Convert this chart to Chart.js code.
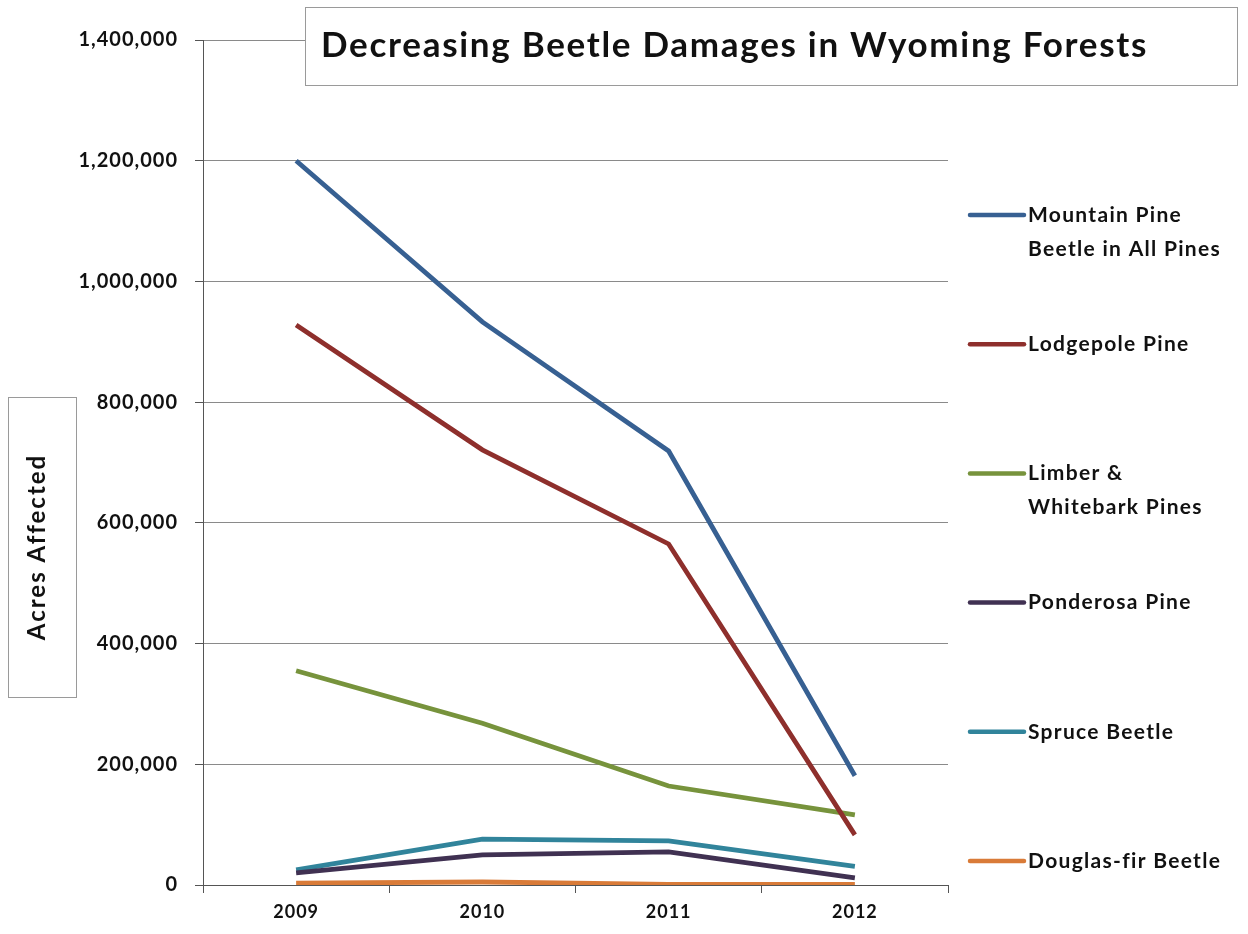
<!DOCTYPE html>
<html>
<head>
<meta charset="utf-8">
<script src="https://cdn.jsdelivr.net/npm/chart.js@4.4.0/dist/chart.umd.min.js"></script>
<style>
  html, body { margin: 0; padding: 0; background: #fff; }
  #wrap { width: 1248px; height: 934px; position: relative; }
</style>
</head>
<body>
<div id="wrap"><canvas id="beetleChart" width="1248" height="934"></canvas></div>
<script>
    const years = ['2009', '2010', '2011', '2012'];
    const mountainPine = [1200000, 933000, 719000, 181000];
    const lodgepole = [928000, 721000, 565000, 83000];
    const limberWhitebark = [355000, 268000, 164000, 116000];
    const ponderosa = [20000, 50000, 55000, 12000];
    const spruce = [25000, 76000, 73000, 31000];
    const douglasFir = [3000, 5000, 1000, 1000];

    const seriesLabels = [
        ['Mountain Pine', 'Beetle in All Pines'],
        ['Lodgepole Pine'],
        ['Limber &', 'Whitebark Pines'],
        ['Ponderosa Pine'],
        ['Spruce Beetle'],
        ['Douglas-fir Beetle']
    ];
    const seriesValues = [mountainPine, lodgepole, limberWhitebark, ponderosa, spruce, douglasFir];
    const seriesColors = ['#376092', '#8E2F2C', '#77933C', '#403152', '#31849B', '#D97B38'];

    const chartTitle = 'Decreasing Beetle Damages in Wyoming Forests';
    const yTitle = 'Acres Affected';
    const FONT = 'Lato, "Open Sans", sans-serif';

    // wider letter spacing for the axis labels (the original font runs wide)
    const spacing = {
        id: 'spacing',
        beforeDraw(chart) {
            chart.ctx.letterSpacing = '1px';
        }
    };

    // title box, y-axis title box and the right-hand legend
    const decorations = {
        id: 'decorations',
        afterDraw(chart) {
            const ctx = chart.ctx;
            ctx.save();

            // title box
            ctx.fillStyle = '#fff';
            ctx.strokeStyle = '#9a9a9a';
            ctx.lineWidth = 1;
            ctx.fillRect(305.5, 7.5, 932, 78);
            ctx.strokeRect(305.5, 7.5, 932, 78);
            ctx.fillStyle = '#111';
            ctx.letterSpacing = '1.7px';
            ctx.font = 'bold 35px ' + FONT;
            ctx.textBaseline = 'middle';
            ctx.textAlign = 'left';
            ctx.fillText(chartTitle, 321, 46);

            // y axis title box
            ctx.strokeRect(8.5, 397.5, 68, 300);
            ctx.translate(37, 547);
            ctx.rotate(-Math.PI / 2);
            ctx.textAlign = 'center';
            ctx.letterSpacing = '2px';
            ctx.font = 'bold 24px ' + FONT;
            ctx.fillText(yTitle, 0, 0);
            ctx.setTransform(1, 0, 0, 1, 0, 0);

            // legend
            ctx.letterSpacing = '1.3px';
            ctx.font = 'bold 21px ' + FONT;
            ctx.textAlign = 'left';
            chart.data.datasets.forEach((ds, i) => {
                const y = 215 + i * 129.2;
                ctx.strokeStyle = ds.borderColor;
                ctx.lineWidth = 4.5;
                ctx.lineCap = 'round';
                ctx.beginPath();
                ctx.moveTo(970, y);
                ctx.lineTo(1024, y);
                ctx.stroke();
                ctx.fillStyle = '#111';
                seriesLabels[i].forEach((line, j) => {
                    ctx.fillText(line, 1028, y + j * 34);
                });
            });
            ctx.restore();
        }
    };

    const ctx = document.getElementById('beetleChart').getContext('2d');

    new Chart(ctx, {
        type: 'line',
        data: {
            labels: years,
            datasets: seriesValues.map((vals, i) => ({
                label: seriesLabels[i].join(' '),
                data: vals,
                borderColor: seriesColors[i],
                backgroundColor: seriesColors[i],
                borderWidth: 4.8,
                pointRadius: 0,
                tension: 0,
                fill: false
            }))
        },
        options: {
            responsive: false,
            animation: false,
            layout: { padding: { left: 0, right: 300, top: 40, bottom: 0 } },
            plugins: {
                legend: { display: false },
                title: { display: false },
                tooltip: { enabled: false }
            },
            scales: {
                x: {
                    offset: true,
                    afterFit: (scale) => { scale.height = 49; },
                    grid: { offset: true, drawOnChartArea: false, drawTicks: true, tickLength: 8, color: '#555' },
                    border: { color: '#555', width: 1 },
                    ticks: { color: '#111', font: { family: FONT, size: 18, weight: 'bold' }, padding: 8 }
                },
                y: {
                    min: 0,
                    max: 1400000,
                    afterFit: (scale) => { scale.width = 203; },
                    grid: { color: '#8a8a8a', tickLength: 8, tickColor: '#555' },
                    border: { color: '#555', width: 1 },
                    ticks: {
                        stepSize: 200000,
                        color: '#111',
                        padding: 17,
                        font: { family: FONT, size: 20, weight: 'bold' },
                        callback: (v) => v.toLocaleString('en-US')
                    }
                }
            }
        },
        plugins: [spacing, decorations]
    });
</script>
</body>
</html>
